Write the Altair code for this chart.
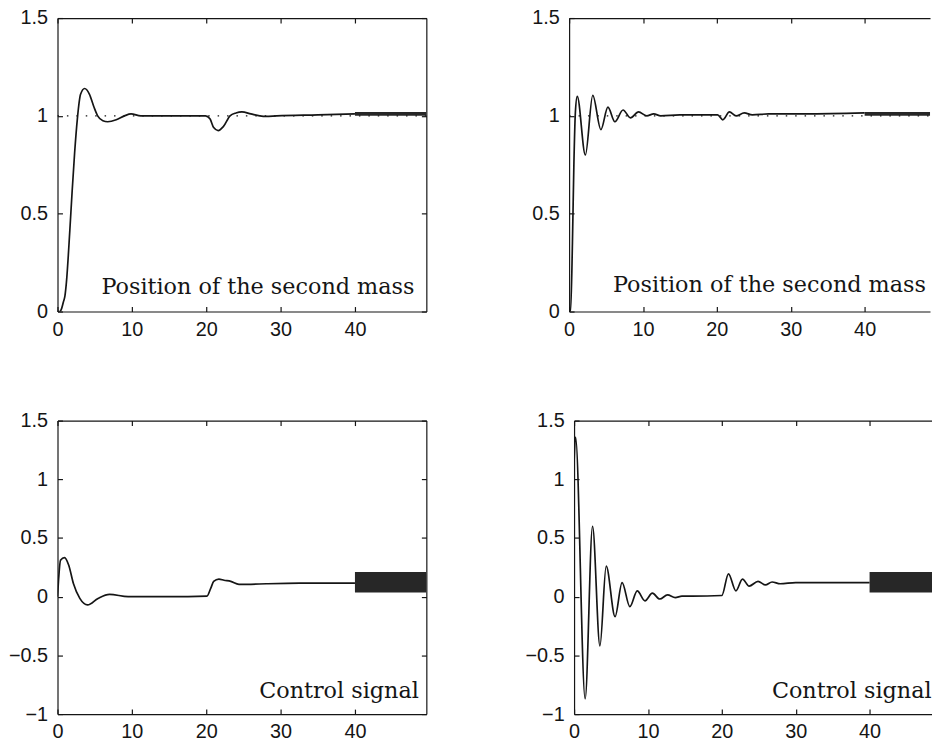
import altair as alt
import pandas as pd

# ---------------- data ----------------
X_TICKS = [0, 10, 20, 30, 40]
Y_TICKS_POS = [0, 0.5, 1, 1.5]
Y_TICKS_CTRL = [-1, -0.5, 0, 0.5, 1, 1.5]

# left column: position of the second mass
pos1_t = [0, 0.3, 0.55, 0.8, 1.0, 1.2, 1.65, 1.96, 2.3, 2.67, 3.1, 3.65, 4.3, 4.9, 5.4, 6.1, 6.75,
          7.9, 9.0, 9.9, 11.2, 15.0, 19.9, 20.5, 21.0, 21.6, 22.3, 23.2, 24.0, 24.8, 26.0, 27.2,
          28.0, 29.5, 35.0, 40.0]
pos1_y = [0, 0.0, 0.015, 0.05, 0.08, 0.15, 0.41, 0.61, 0.81, 0.985, 1.11, 1.14, 1.11, 1.045, 1.0,
          0.975, 0.97, 0.98, 1.0, 1.01, 1.0, 1.0, 1.0, 0.985, 0.94, 0.925, 0.945, 1.0, 1.015,
          1.02, 1.01, 1.0, 0.997, 1.0, 1.005, 1.01]

# left column: control signal
ctrl1_t = [0, 0.15, 0.4, 0.95, 1.5, 2.15, 3.0, 4.05, 5.45, 7.0, 9.5, 15.0, 20.1, 20.6, 21.0, 21.7,
           22.4, 23.3, 24.4, 25.5, 28.1, 32.6, 40.0]
ctrl1_y = [0, 0.15, 0.31, 0.333, 0.27, 0.11, -0.015, -0.07, -0.015, 0.02, 0.0, 0.0, 0.005, 0.07,
           0.13, 0.15, 0.14, 0.13, 0.105, 0.105, 0.11, 0.115, 0.115]

# right column: position of the second mass
pos2_t = [0, 0.2, 0.45, 0.65, 0.85, 1.1, 2.2, 3.2, 4.3, 5.25, 6.2, 7.3, 8.3, 9.4, 10.5, 11.45,
          12.4, 15.0, 20.1, 20.8, 21.7, 22.6, 23.7, 24.8, 27.0, 32.0, 40.0]
pos2_y = [0, 0.0, 0.35, 0.76, 1.02, 1.10, 0.80, 1.105, 0.93, 1.045, 0.97, 1.03, 0.99, 1.02, 1.0,
          1.01, 1.0, 1.005, 1.005, 0.98, 1.02, 1.0, 1.015, 1.005, 1.01, 1.01, 1.015]

# right column: control signal
ctrl2_t = [0, 0.2, 1.5, 2.5, 3.5, 4.35, 5.55, 6.5, 7.55, 8.55, 9.6, 10.6, 11.6, 12.65, 13.7, 14.6,
           16.0, 20.0, 20.9, 21.9, 22.8, 23.7, 24.9, 25.9, 26.8, 27.9, 30.0, 40.0]
ctrl2_y = [1.15, 1.36, -0.87, 0.60, -0.42, 0.26, -0.17, 0.12, -0.085, 0.05, -0.035, 0.03, -0.02,
           0.015, -0.008, 0.005, 0.005, 0.01, 0.195, 0.05, 0.15, 0.09, 0.13, 0.10, 0.125, 0.11,
           0.12, 0.12]

# high-frequency bands after t = 40
band1_pos = {"t": [40, 49.6], "lo": [1.0, 1.0], "hi": [1.02, 1.02]}
band1_ctrl = {"t": [40, 49.6], "lo": [0.035, 0.035], "hi": [0.21, 0.21]}
band2_pos = {"t": [40, 49.0], "lo": [1.0, 1.0], "hi": [1.02, 1.02]}
band2_ctrl = {"t": [40, 49.0], "lo": [0.035, 0.035], "hi": [0.21, 0.21]}

LABEL_POS = "Position of the second mass"
LABEL_CTRL = "Control signal"

INK = "#151515"
H = 296


def panel(t, y, band, xmax, width, ydom, yticks, label, lab_xy, ref=False, right_edge=True):
    xs = alt.Scale(domain=[0, xmax], nice=False, zero=False)
    ys = alt.Scale(domain=ydom, nice=False, zero=False)
    # inward tick axes (offset pulls them inside the frame)
    ax_b = alt.Axis(orient="bottom", values=X_TICKS, tickSize=5, offset=-5, domain=False,
                    labelPadding=8, format="d", labelFlush=False)
    ax_l = alt.Axis(orient="left", values=yticks, tickSize=5, offset=-5, domain=False,
                    labelPadding=10, format="~g", labelFlush=False)
    ax_t = alt.Axis(orient="top", values=X_TICKS, tickSize=5, offset=-5, domain=False,
                    labels=False)
    ax_r = alt.Axis(orient="right", values=yticks, tickSize=5, offset=-5, domain=False,
                    labels=False)
    # frame edges (axis domain lines only)
    fr_b = alt.Axis(orient="bottom", domain=True, ticks=False, labels=False)
    fr_l = alt.Axis(orient="left", domain=True, ticks=False, labels=False)
    fr_t = alt.Axis(orient="top", domain=True, ticks=False, labels=False)
    fr_r = alt.Axis(orient="right", domain=True, ticks=False, labels=False)

    df = pd.DataFrame({"t": t, "y": y})
    line = alt.Chart(df).mark_line(interpolate="monotone", color=INK, strokeWidth=1.7,
                                   clip=True).encode(
        x=alt.X("t:Q", scale=xs, axis=ax_b, title=None),
        y=alt.Y("y:Q", scale=ys, axis=ax_l, title=None))

    bdf = pd.DataFrame(band)
    band_l = alt.Chart(bdf).mark_area(color=INK, opacity=0.92, clip=True).encode(
        x=alt.X("t:Q", scale=xs, axis=ax_t, title=None),
        y=alt.Y("hi:Q", scale=ys, axis=ax_r if right_edge else None, title=None),
        y2="lo:Q")

    tdf = pd.DataFrame({"t": [lab_xy[0]], "y": [lab_xy[1]], "txt": [label]})
    text = alt.Chart(tdf).mark_text(align="right", baseline="alphabetic", font="DejaVu Serif",
                                    fontSize=22.5, color=INK).encode(
        x=alt.X("t:Q", scale=xs, axis=fr_b, title=None),
        y=alt.Y("y:Q", scale=ys, axis=fr_l, title=None),
        text="txt:N")

    rdf = pd.DataFrame({"y": [1.0], "x0": [0.0], "x1": [xmax]})
    rule = alt.Chart(rdf).mark_rule(color=INK, strokeWidth=1.3, strokeDash=[1.5, 8],
                                    opacity=1 if ref else 0).encode(
        x=alt.X("x0:Q", scale=xs, axis=fr_t, title=None),
        x2="x1:Q",
        y=alt.Y("y:Q", scale=ys, axis=fr_r if right_edge else None, title=None))

    return alt.layer(rule, line, band_l, text).resolve_axis(
        x="independent", y="independent").properties(width=width, height=H)


tl = panel(pos1_t, pos1_y, band1_pos, 49.6, 372, [0, 1.5], Y_TICKS_POS, LABEL_POS, (48.0, 0.09),
           ref=True)
tr = panel(pos2_t, pos2_y, band2_pos, 48.85, 364, [0, 1.5], Y_TICKS_POS, LABEL_POS, (48.3, 0.10),
           ref=True, right_edge=False)
bl = panel(ctrl1_t, ctrl1_y, band1_ctrl, 49.6, 372, [-1, 1.5], Y_TICKS_CTRL, LABEL_CTRL,
           (48.6, -0.86))
br = panel(ctrl2_t, ctrl2_y, band2_ctrl, 48.45, 361, [-1, 1.5], Y_TICKS_CTRL, LABEL_CTRL,
           (48.4, -0.86), right_edge=False)

top = alt.hconcat(tl, tr, spacing=105)
bottom = alt.hconcat(bl, br, spacing=98)

chart = (
    alt.vconcat(top, bottom, spacing=72)
    .properties(padding={"left": 8, "top": 5, "right": 0, "bottom": 0}, background="white")
    .configure_view(stroke=None)
    .configure_axis(labelFont="Liberation Sans", labelFontSize=20, labelColor=INK,
                    tickColor=INK, tickWidth=1.2, domainColor=INK, domainWidth=1.2, grid=False)
)

chart.save("out.html", embed_options={"renderer": "svg", "actions": False})
